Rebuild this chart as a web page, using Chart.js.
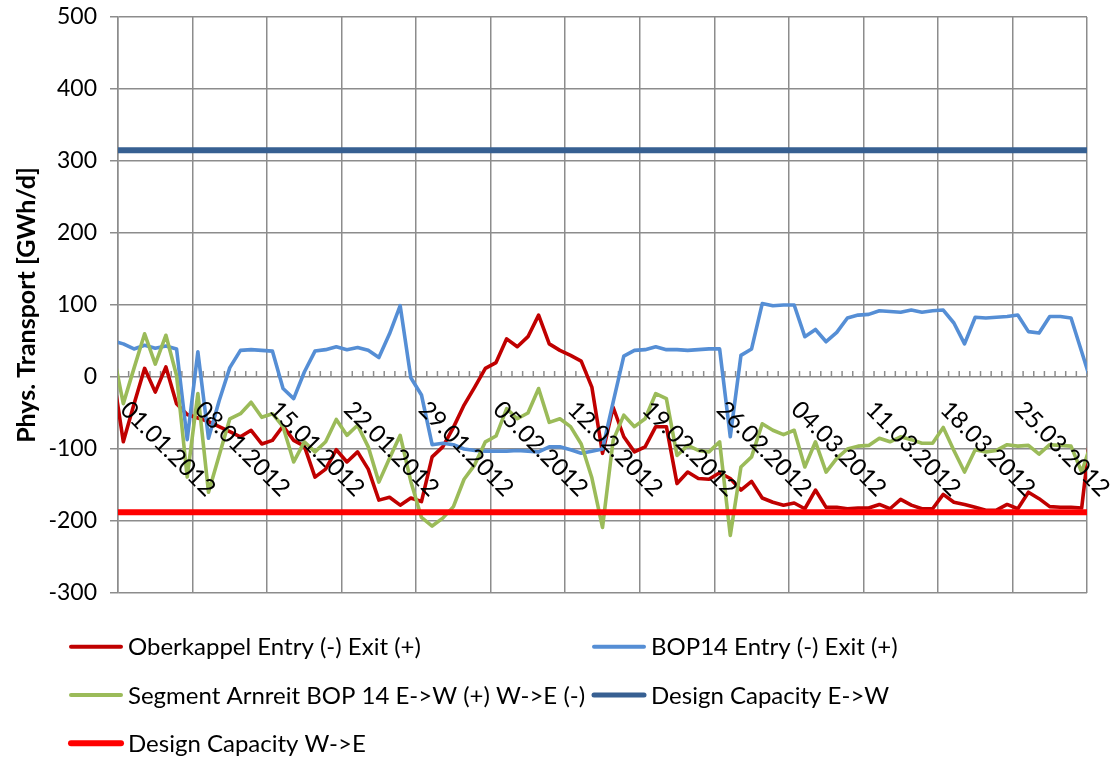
<!DOCTYPE html>
<html>
<head>
<meta charset="utf-8">
<script src="https://cdn.jsdelivr.net/npm/chart.js@4.4.1/dist/chart.umd.min.js"></script>
<style>
html, body { margin: 0; padding: 0; background: #ffffff; }
#wrap { width: 1110px; height: 758px; position: relative; }
canvas { display: block; }
</style>
</head>
<body>
<div id="wrap"><canvas id="c" width="1110" height="758"></canvas></div>
<script>
// ---- data (daily values, index 0 = 31.12.2011 ... index 92 = 01.04.2012) ----
const xTickLabels = ['01.01.2012','08.01.2012','15.01.2012','22.01.2012','29.01.2012','05.02.2012','12.02.2012','19.02.2012','26.02.2012','04.03.2012','11.03.2012','18.03.2012','25.03.2012'];
const seriesNames = ['Oberkappel Entry (-) Exit (+)','BOP14 Entry (-) Exit (+)','Segment Arnreit BOP 14 E->W (+) W->E (-)','Design Capacity E->W','Design Capacity W->E'];

const oberkappel = [8, -90, -38, 12, -21, 14, -37, -52, -57, -62, -69, -76, -83, -74, -93, -88, -68, -88, -96, -139, -128, -101, -118, -104, -128, -171, -167, -178, -168, -173, -111, -97, -70, -39, -14, 12, 20, 53, 42, 56, 86, 46, 37, 30, 22, -14, -106, -42, -83, -104, -97, -69, -69, -148, -132, -141, -142, -133, -141, -157, -145, -168, -174, -178, -175, -183, -157, -181, -181, -183, -182, -182, -177, -183, -170, -178, -183, -183, -163, -174, -177, -181, -185, -185, -177, -183, -160, -169, -180, -181, -181, -182, -55];

const bop14 = [50, 46, 39, 44, 40, 43, 39, -87, 35, -85, -33, 13, 37, 38, 37, 36, -16, -30, 7, 36, 38, 42, 38, 41, 37, 27, 60, 99, -1, -25, -94, -92, -94, -100, -102, -103, -103, -103, -102, -103, -104, -97, -97, -101, -106, -103, -100, -35, 29, 37, 38, 42, 38, 38, 37, 38, 39, 39, -83, 30, 39, 102, 99, 100, 100, 56, 66, 49, 62, 82, 86, 87, 92, 91, 90, 93, 90, 92, 93, 75, 46, 83, 82, 83, 84, 86, 63, 61, 84, 84, 82, 35, -12];

const segment = [37, -37, 12, 60, 18, 58, 2, -139, -23, -160, -109, -58, -51, -35, -56, -51, -69, -118, -90, -104, -90, -59, -81, -67, -97, -146, -113, -81, -145, -195, -207, -196, -180, -142, -122, -90, -82, -44, -58, -50, -16, -63, -58, -69, -93, -140, -209, -88, -53, -69, -58, -23, -30, -109, -95, -102, -104, -90, -220, -125, -111, -65, -74, -80, -74, -125, -90, -132, -113, -100, -96, -95, -85, -90, -83, -87, -92, -92, -70, -102, -132, -101, -104, -102, -94, -96, -95, -107, -94, -95, -96, -132, -87];

const designDays = [0, 91];
const designEW = [315, 315];
const designWE = [-188, -188];

// ---- styling ----
const FONT = 'Lato, "Open Sans", "DejaVu Sans", sans-serif';
const GRID = '#8c8c8c';
const colors = ['#C00000', '#558ED5', '#9BBB59', '#376092', '#FF0000'];
const widths = [3.6, 3.6, 3.6, 6, 6];
const legendWidths = [4, 4, 4, 5, 6];
const TXT = 24;

function dailyPoints(arr) { return arr.map((v, i) => ({ x: i - 0.5, y: v })); }
function designPoints(arr) { return arr.map((v, i) => ({ x: designDays[i], y: v })); }

const seriesData = [dailyPoints(oberkappel), dailyPoints(bop14), dailyPoints(segment), designPoints(designEW), designPoints(designWE)];

const datasets = seriesData.map((d, i) => ({
  label: seriesNames[i],
  data: d,
  borderColor: colors[i],
  backgroundColor: colors[i],
  borderWidth: widths[i],
  pointRadius: 0,
  tension: 0,
  fill: false,
  clip: 0,
  borderJoinStyle: 'round',
  order: 4 - i
}));

const decor = {
  id: 'decor',
  beforeDatasetsDraw(chart) {
    const ctx = chart.ctx, xs = chart.scales.x, ys = chart.scales.y;
    const y0 = ys.getPixelForValue(0);
    ctx.save();
    ctx.strokeStyle = GRID;
    ctx.lineWidth = 1.5;
    for (let k = 0; k <= 91; k++) {
      const x = xs.getPixelForValue(k);
      ctx.beginPath();
      ctx.moveTo(x, y0);
      ctx.lineTo(x, y0 - 6);
      ctx.stroke();
    }
    ctx.restore();
  },
  afterDraw(chart) {
    const ctx = chart.ctx, xs = chart.scales.x, ys = chart.scales.y;
    const y0 = ys.getPixelForValue(0);
    ctx.save();
    ctx.fillStyle = '#000';
    ctx.font = TXT + 'px ' + FONT;
    ctx.textAlign = 'left';
    ctx.textBaseline = 'alphabetic';
    xTickLabels.forEach((lab, k) => {
      const x = xs.getPixelForValue(k * 7);
      ctx.save();
      ctx.translate(x + 1, y0 + 34);
      ctx.rotate(Math.PI / 4);
      ctx.fillText(lab, 0, 0);
      ctx.restore();
    });
    // legend
    const cols = [70, 593];
    const rows = [646.7, 695, 743.3];
    ctx.textBaseline = 'middle';
    seriesNames.forEach((name, i) => {
      const cx = cols[i % 2], cy = rows[Math.floor(i / 2)];
      ctx.strokeStyle = colors[i];
      ctx.lineWidth = legendWidths[i];
      ctx.lineCap = 'round';
      ctx.beginPath();
      ctx.moveTo(cx + 1, cy);
      ctx.lineTo(cx + 51, cy);
      ctx.stroke();
      ctx.fillStyle = '#000';
      ctx.fillText(name, cx + 58, cy + 1);
    });
    ctx.restore();
  }
};

new Chart(document.getElementById('c'), {
  type: 'line',
  data: { datasets },
  options: {
    responsive: false,
    animation: false,
    events: [],
    layout: { padding: { left: 0, top: 17, right: 23, bottom: 165 } },
    plugins: { legend: { display: false }, tooltip: { enabled: false }, title: { display: false } },
    scales: {
      x: {
        type: 'linear',
        min: 0, max: 91,
        ticks: { display: false, stepSize: 7 },
        grid: { color: GRID, lineWidth: 1.5, drawTicks: false },
        border: { display: false }
      },
      y: {
        min: -300, max: 500,
        ticks: { stepSize: 100, color: '#000', padding: 13, font: { family: FONT, size: 23 } },
        grid: { color: GRID, lineWidth: 1.5, tickLength: 8, drawTicks: true },
        border: { display: true, color: GRID, width: 1.5 },
        title: { display: true, text: 'Phys. Transport [GWh/d]', color: '#000', font: { family: FONT, size: 25, weight: 'bold' }, padding: { top: 12, bottom: 0 } },
        afterFit(s) { s.width = 118; s.paddingTop = 0; s.paddingBottom = 0; }
      }
    }
  },
  plugins: [decor]
});
</script>
</body>
</html>
